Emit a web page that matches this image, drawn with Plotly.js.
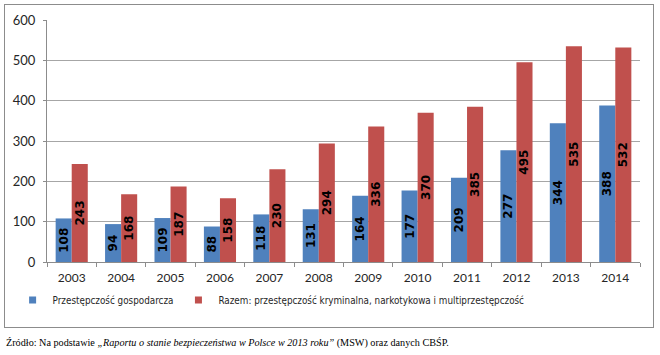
<!DOCTYPE html>
<html><head><meta charset="utf-8">
<script src="https://cdn.plot.ly/plotly-3.0.1.min.js"></script>
<style>html,body{margin:0;padding:0;background:#fff}#frame{position:absolute;left:4px;top:4px;width:650px;height:324px;border:1px solid #8c8c8c;pointer-events:none;box-sizing:border-box}</style>
</head><body>
<div id="chart" style="width:660px;height:355px;"></div>
<div id="frame"></div>
<script>
const years = ['2003','2004','2005','2006','2007','2008','2009','2010','2011','2012','2013','2014'];
const gospodarcza = [108,94,109,88,118,131,164,177,209,277,344,388];
const razem = [243,168,187,158,230,294,336,370,385,495,535,532];
const seriesNames = ['Przestępczość gospodarcza','Razem: przestępczość kryminalna, narkotykowa i multiprzestępczość'];
const colors = ['#4F81BD','#C0504D'];
const caption = 'Źródło: Na podstawie <i>„Raportu o stanie bezpieczeństwa w Polsce w 2013 roku”</i> (MSW) oraz danych CBŚP.';

const labelFont = {family:'DejaVu Sans, sans-serif', size:12, color:'#000'};
const common = {type:'bar', x:years, textposition:'inside', textangle:-90, insidetextanchor:'middle',
  constraintext:'none', insidetextfont:labelFont, texttemplate:'<b>%{y}</b>', hoverinfo:'skip', showlegend:false};
const data = [
  Object.assign({}, common, {y:gospodarcza, name:seriesNames[0], marker:{color:colors[0]}}),
  Object.assign({}, common, {y:razem, name:seriesNames[1], marker:{color:colors[1]}}),
  {type:'scatter', mode:'markers', x:[null], y:[null], name:seriesNames[0], marker:{symbol:'square', size:7, color:colors[0]}, hoverinfo:'skip'},
  {type:'scatter', mode:'markers', x:[null], y:[null], name:seriesNames[1], marker:{symbol:'square', size:7, color:colors[1]}, hoverinfo:'skip'}
];
const layout = {
  width:660, height:355,
  margin:{l:47, r:20, t:20, b:93},
  paper_bgcolor:'#fff', plot_bgcolor:'#fff',
  barmode:'group', bargap:0.35, bargroupgap:0,
  font:{family:'Lato, sans-serif', size:12, color:'#404040'},
  xaxis:{type:'category', showgrid:false, showline:true, linecolor:'#8c8c8c', linewidth:1,
    ticks:'outside', tickson:'boundaries', ticklen:4, tickcolor:'#8c8c8c', ticklabelstandoff:5,
    tickfont:{family:'Lato, sans-serif', size:12, color:'#262626'}},
  yaxis:{range:[0,600], dtick:100, showgrid:true, gridcolor:'#a6a6a6', gridwidth:1,
    showline:true, linecolor:'#8c8c8c', ticks:'outside', ticklen:3, tickcolor:'#8c8c8c', ticklabelstandoff:5,
    zeroline:false, tickfont:{family:'Lato, sans-serif', size:13, color:'#262626'}},
  showlegend:true,
  legend:{orientation:'h', x:-0.058, xanchor:'left', y:-0.157, yanchor:'middle',
    font:{family:'DejaVu Sans Condensed, Liberation Sans Narrow, Lato, sans-serif', size:9.8, color:'#262626'}, itemwidth:30, tracegroupgap:0},
  annotations:[{xref:'paper', yref:'paper', x:-0.0725, y:-0.335, xanchor:'left', yanchor:'middle',
    showarrow:false, text:caption, font:{family:'Liberation Serif, serif', size:10.2, color:'#000'}}]
};
Plotly.newPlot('chart', data, layout, {displayModeBar:false, staticPlot:true});
</script>
</body></html>
